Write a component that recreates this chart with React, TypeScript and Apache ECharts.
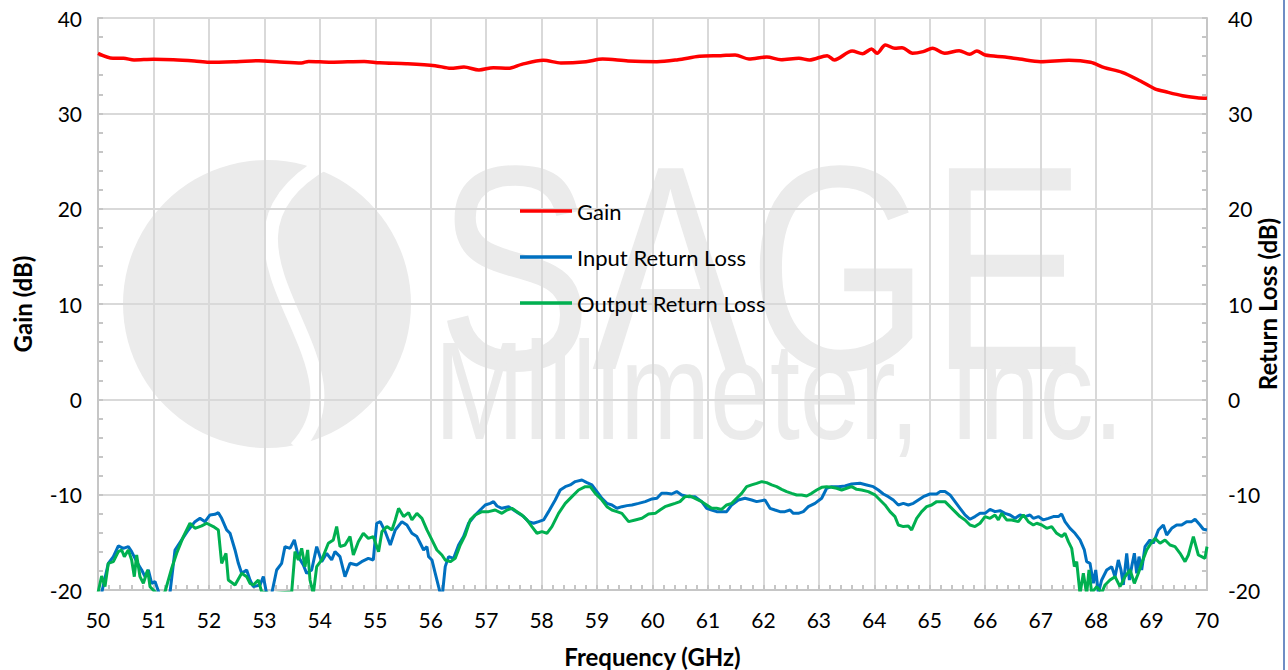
import React, { useEffect, useRef } from "react";
import * as echarts from "echarts";

const xTicks = [50, 51, 52, 53, 54, 55, 56, 57, 58, 59, 60, 61, 62, 63, 64, 65, 66, 67, 68, 69, 70];
const yTicks = [-20, -10, 0, 10, 20, 30, 40];

const gainFreq = [50.0, 50.27, 50.46, 50.65, 51.0, 51.36, 51.74, 52.0, 52.5, 52.9, 53.28, 53.67, 53.8, 54.2, 54.8, 55.08, 55.56, 56.08, 56.36, 56.6, 56.87, 57.13, 57.4, 57.64, 58.03, 58.35, 58.8, 59.1, 59.56, 60.08, 60.46, 60.85, 61.23, 61.49, 61.74, 62.06, 62.32, 62.64, 62.83, 63.15, 63.28, 63.6, 63.79, 63.95, 64.05, 64.2, 64.37, 64.5, 64.69, 64.88, 65.05, 65.27, 65.53, 65.72, 65.85, 66.0, 66.36, 66.62, 67.0, 67.51, 67.9, 68.15, 68.47, 68.8, 69.05, 69.3, 69.56, 69.82, 70.0];
const gainDb = [36.29, 35.77, 35.77, 35.6, 35.67, 35.63, 35.49, 35.35, 35.42, 35.52, 35.38, 35.28, 35.45, 35.35, 35.45, 35.3, 35.2, 35.0, 34.72, 34.86, 34.55, 34.79, 34.72, 35.14, 35.56, 35.28, 35.42, 35.7, 35.49, 35.42, 35.63, 35.98, 36.05, 36.12, 35.7, 35.91, 35.63, 35.77, 35.6, 36.05, 35.6, 36.54, 36.26, 36.75, 36.3, 37.17, 36.82, 36.89, 36.3, 36.47, 36.82, 36.3, 36.57, 36.19, 36.54, 36.12, 35.91, 35.7, 35.42, 35.56, 35.35, 34.79, 34.3, 33.39, 32.6, 32.2, 31.85, 31.64, 31.57];

const inputFreq = [50.0, 50.066, 50.186, 50.277, 50.367, 50.457, 50.547, 50.607, 50.697, 50.788, 50.848, 50.908, 50.968, 51.028, 51.118, 51.298, 51.389, 51.509, 51.629, 51.749, 51.839, 51.93, 52.02, 52.11, 52.17, 52.23, 52.32, 52.381, 52.471, 52.531, 52.591, 52.681, 52.741, 52.801, 52.922, 52.982, 53.042, 53.132, 53.222, 53.312, 53.372, 53.463, 53.541, 53.613, 53.703, 53.763, 53.853, 53.944, 54.034, 54.124, 54.214, 54.274, 54.364, 54.454, 54.545, 54.665, 54.755, 54.875, 54.965, 55.026, 55.09, 55.18, 55.271, 55.361, 55.481, 55.571, 55.661, 55.751, 55.812, 55.872, 55.932, 55.962, 56.022, 56.082, 56.142, 56.202, 56.262, 56.323, 56.413, 56.503, 56.593, 56.683, 56.803, 56.924, 56.984, 57.074, 57.134, 57.194, 57.284, 57.405, 57.495, 57.585, 57.675, 57.765, 57.855, 57.946, 58.036, 58.126, 58.246, 58.336, 58.427, 58.517, 58.607, 58.727, 58.817, 58.907, 58.998, 59.088, 59.178, 59.268, 59.358, 59.448, 59.539, 59.629, 59.749, 59.869, 59.99, 60.08, 60.165, 60.255, 60.346, 60.436, 60.526, 60.646, 60.766, 60.887, 60.977, 61.067, 61.157, 61.247, 61.337, 61.428, 61.548, 61.668, 61.788, 61.878, 62.029, 62.119, 62.209, 62.299, 62.389, 62.48, 62.54, 62.63, 62.72, 62.81, 62.93, 63.051, 63.141, 63.231, 63.351, 63.471, 63.592, 63.742, 63.862, 63.982, 64.073, 64.163, 64.253, 64.343, 64.433, 64.524, 64.614, 64.704, 64.794, 64.884, 65.004, 65.125, 65.185, 65.275, 65.366, 65.456, 65.546, 65.636, 65.726, 65.816, 65.907, 65.997, 66.087, 66.177, 66.267, 66.357, 66.448, 66.538, 66.628, 66.718, 66.808, 66.868, 66.959, 67.049, 67.139, 67.229, 67.319, 67.379, 67.439, 67.53, 67.62, 67.71, 67.788, 67.83, 67.89, 67.95, 67.993, 68.041, 68.101, 68.191, 68.281, 68.341, 68.401, 68.449, 68.491, 68.552, 68.6, 68.642, 68.69, 68.732, 68.774, 68.822, 68.882, 68.972, 69.032, 69.123, 69.213, 69.273, 69.363, 69.453, 69.543, 69.633, 69.724, 69.784, 69.874, 69.934, 70.0];
const inputDb = [-20.5, -20.3, -17.2, -16.5, -15.38, -15.63, -15.45, -15.98, -17.03, -17.9, -18.6, -17.9, -19.3, -19.12, -20.6, -20.3, -15.8, -14.75, -13.7, -12.83, -12.48, -12.83, -12.13, -12.06, -11.89, -12.48, -13.7, -14.05, -15.8, -17.2, -18.25, -17.9, -18.95, -19.65, -19.47, -18.6, -20.4, -20.4, -17.9, -17.2, -15.45, -15.63, -14.75, -16.5, -17.38, -18.25, -17.9, -15.45, -17.03, -16.15, -16.85, -15.98, -16.5, -18.6, -17.2, -17.38, -17.03, -16.68, -16.85, -13.0, -12.83, -13.88, -15.28, -13.7, -12.83, -13.18, -14.05, -14.4, -15.1, -15.8, -15.45, -16.5, -16.85, -18.25, -19.65, -21.0, -17.55, -16.5, -16.68, -15.28, -14.4, -13.0, -12.13, -11.43, -11.08, -10.91, -10.73, -11.19, -11.43, -11.26, -11.61, -11.96, -12.3, -12.83, -13.0, -12.83, -12.65, -11.78, -10.56, -9.51, -9.16, -8.98, -8.63, -8.46, -8.74, -8.98, -9.68, -10.38, -10.91, -11.08, -11.43, -11.26, -11.15, -11.08, -10.91, -10.73, -10.45, -10.38, -9.86, -9.86, -9.93, -9.68, -10.03, -10.21, -10.21, -10.73, -11.43, -11.61, -11.78, -11.78, -11.78, -11.08, -10.56, -10.38, -10.56, -10.73, -10.56, -11.43, -11.61, -11.78, -11.78, -11.61, -11.96, -11.96, -11.78, -11.26, -10.91, -10.38, -9.33, -9.16, -9.16, -9.09, -8.88, -8.81, -8.98, -9.16, -9.51, -9.93, -10.21, -10.56, -11.08, -10.91, -11.08, -10.91, -10.56, -10.21, -9.93, -9.93, -9.68, -9.68, -10.03, -10.73, -11.43, -12.13, -12.58, -12.3, -11.96, -11.96, -11.54, -11.78, -11.68, -11.96, -12.13, -12.48, -12.13, -12.3, -12.13, -12.48, -12.3, -12.65, -12.48, -12.3, -12.3, -12.03, -12.83, -13.53, -14.05, -14.75, -15.8, -17.03, -17.2, -19.3, -17.9, -20.3, -18.95, -17.9, -17.55, -18.6, -16.85, -17.9, -19.47, -16.15, -18.95, -17.55, -16.15, -18.25, -16.5, -17.9, -15.45, -14.75, -15.1, -13.7, -13.18, -14.23, -13.53, -13.18, -13.18, -12.83, -12.83, -12.58, -13.18, -13.63, -13.7];

const outputFreq = [50.0, 50.066, 50.126, 50.186, 50.277, 50.367, 50.427, 50.475, 50.547, 50.607, 50.655, 50.697, 50.757, 50.818, 50.896, 50.938, 51.028, 51.118, 51.208, 51.329, 51.419, 51.539, 51.659, 51.749, 51.87, 51.96, 52.08, 52.17, 52.23, 52.308, 52.35, 52.471, 52.591, 52.681, 52.741, 52.801, 52.891, 52.952, 53.132, 53.312, 53.493, 53.553, 53.613, 53.673, 53.733, 53.781, 53.823, 53.883, 53.944, 54.034, 54.154, 54.244, 54.304, 54.364, 54.454, 54.545, 54.605, 54.695, 54.785, 54.875, 54.965, 55.06, 55.12, 55.21, 55.301, 55.361, 55.421, 55.511, 55.601, 55.661, 55.751, 55.842, 55.932, 56.022, 56.112, 56.202, 56.262, 56.353, 56.443, 56.533, 56.623, 56.713, 56.803, 56.924, 57.044, 57.164, 57.284, 57.375, 57.465, 57.555, 57.645, 57.735, 57.825, 57.916, 58.006, 58.096, 58.186, 58.306, 58.427, 58.547, 58.667, 58.787, 58.877, 58.968, 59.088, 59.178, 59.268, 59.358, 59.448, 59.569, 59.689, 59.809, 59.929, 60.05, 60.135, 60.225, 60.316, 60.406, 60.496, 60.586, 60.676, 60.766, 60.887, 60.977, 61.067, 61.157, 61.247, 61.337, 61.428, 61.518, 61.608, 61.698, 61.788, 61.878, 61.969, 62.059, 62.149, 62.239, 62.329, 62.419, 62.51, 62.6, 62.69, 62.78, 62.87, 62.961, 63.051, 63.141, 63.231, 63.321, 63.411, 63.502, 63.592, 63.682, 63.772, 63.892, 64.013, 64.103, 64.193, 64.283, 64.373, 64.433, 64.524, 64.614, 64.674, 64.764, 64.854, 64.944, 65.034, 65.125, 65.185, 65.275, 65.366, 65.456, 65.546, 65.636, 65.726, 65.816, 65.907, 65.997, 66.087, 66.177, 66.237, 66.297, 66.387, 66.478, 66.598, 66.688, 66.778, 66.868, 66.929, 67.019, 67.109, 67.199, 67.289, 67.379, 67.439, 67.5, 67.56, 67.608, 67.65, 67.71, 67.77, 67.83, 67.872, 67.92, 68.011, 68.101, 68.161, 68.251, 68.341, 68.431, 68.522, 68.612, 68.69, 68.762, 68.822, 68.912, 68.99, 69.063, 69.153, 69.243, 69.333, 69.423, 69.514, 69.604, 69.664, 69.754, 69.844, 69.904, 69.964, 70.0];
const outputDb = [-20.3, -18.53, -19.65, -17.2, -17.03, -15.98, -15.8, -16.5, -15.8, -16.85, -18.6, -16.33, -18.6, -19.3, -17.9, -19.65, -20.2, -20.6, -20.2, -17.72, -16.15, -14.4, -13.0, -13.53, -13.28, -13.0, -13.35, -13.7, -17.2, -16.15, -18.95, -19.47, -18.25, -18.6, -19.3, -19.47, -18.95, -20.2, -20.4, -20.3, -20.2, -15.98, -16.85, -15.63, -17.55, -15.8, -18.95, -20.4, -17.55, -16.85, -15.1, -14.75, -13.35, -15.45, -15.28, -14.4, -16.33, -14.93, -14.05, -14.58, -14.4, -15.98, -13.88, -13.35, -13.7, -12.65, -11.43, -12.3, -11.89, -12.65, -11.96, -12.48, -13.7, -14.75, -15.8, -16.33, -16.85, -17.03, -16.68, -15.28, -14.23, -12.65, -12.13, -11.78, -11.78, -11.61, -11.96, -11.61, -11.43, -11.78, -12.13, -12.65, -13.35, -14.05, -13.88, -14.05, -13.35, -11.96, -10.91, -10.21, -9.51, -9.16, -9.16, -9.86, -10.56, -11.26, -11.61, -11.78, -11.96, -12.83, -12.65, -12.48, -12.03, -11.96, -11.61, -11.26, -11.08, -10.91, -10.73, -10.21, -10.14, -10.38, -10.73, -11.08, -11.43, -11.43, -11.54, -11.08, -10.91, -10.38, -9.86, -9.16, -8.98, -8.81, -8.63, -8.74, -8.98, -9.16, -9.44, -9.68, -9.86, -10.03, -10.03, -10.14, -9.86, -9.51, -9.23, -9.16, -9.23, -9.33, -9.51, -9.33, -9.16, -9.44, -9.51, -9.68, -10.03, -10.56, -11.08, -11.78, -12.3, -13.18, -13.35, -13.28, -13.7, -12.48, -11.78, -11.26, -11.08, -10.73, -10.73, -10.73, -11.26, -11.78, -12.3, -12.65, -13.18, -13.35, -13.0, -12.3, -12.48, -12.13, -12.65, -11.96, -12.65, -12.65, -12.83, -12.13, -12.83, -13.18, -13.0, -13.18, -13.53, -13.35, -14.05, -14.4, -14.05, -14.93, -15.63, -17.55, -17.03, -20.4, -18.25, -20.4, -17.9, -20.3, -19.65, -20.3, -19.47, -18.95, -18.6, -19.65, -18.6, -17.9, -19.3, -18.25, -17.2, -15.8, -15.1, -14.58, -15.1, -14.75, -15.28, -15.45, -16.15, -17.03, -16.33, -14.4, -16.33, -16.5, -16.68, -15.45];

const seriesNames = ["Gain", "Input Return Loss", "Output Return Loss"];
const seriesColors = ["#ff0000", "#0070c0", "#00b050"];

const zip = (xs: number[], ys: number[]) => xs.map((x, i) => [x, ys[i]]);

const FONT = "Lato, 'Open Sans', sans-serif";

export default function App() {
  const ref = useRef<HTMLDivElement>(null);
  useEffect(() => {
    if (!ref.current) return;
    const chart = echarts.init(ref.current, undefined, { renderer: "svg" });
    const wm = "#ebebeb";
    const axisCommon = {
      type: "value",
      min: yTicks[0],
      max: yTicks[yTicks.length - 1],
      interval: 10,
      nameMoveOverlap: false,
      axisLine: { show: true, lineStyle: { color: "#c6c6c6", width: 2 } },
      axisTick: { show: true, inside: true, length: 5, lineStyle: { color: "#c6c6c6", width: 2 } },
      minorTick: { show: true, splitNumber: 5, length: 5, lineStyle: { color: "#c6c6c6", width: 2 } },
      axisLabel: { color: "#000", fontSize: 21, fontFamily: FONT },
      nameLocation: "middle",
      nameTextStyle: { color: "#000", fontSize: 24, fontWeight: "bold", fontFamily: FONT },
    };
    chart.setOption({
      animation: false,
      backgroundColor: "#fff",
      grid: { left: 98, right: 81, top: 18, bottom: 80, containLabel: false, outerBoundsMode: "none" },
      legend: {
        orient: "vertical",
        left: 515,
        top: 195,
        icon: "rect",
        itemWidth: 52,
        itemHeight: 3.5,
        itemGap: 24,
        data: seriesNames,
        textStyle: { color: "#000", fontSize: 22, fontFamily: FONT, lineHeight: 22 },
      },
      graphic: [
        { type: "circle", z: -10, shape: { cx: 267, cy: 304, r: 144 }, style: { fill: wm } },
        {
          type: "bezierCurve",
          z: -9,
          shape: { x1: 326, y1: 162, cpx1: 180, cpy1: 245, cpx2: 380, cpy2: 360, x2: 296, y2: 448 },
          style: { stroke: "#fff", lineWidth: 14, fill: "none" },
        },
        {
          type: "text",
          z: -10,
          x: 761,
          y: 268,
          scaleX: 0.8,
          style: {
            text: "SAGE",
            fill: wm,
            align: "center",
            verticalAlign: "middle",
            font: "normal 292px 'Liberation Sans', Arial, sans-serif",
          },
        },
        {
          type: "text",
          z: -10,
          x: 779,
          y: 390,
          scaleX: 0.77,
          style: {
            text: "Millimeter, Inc.",
            fill: wm,
            align: "center",
            verticalAlign: "middle",
            font: "normal 140px 'Liberation Sans', Arial, sans-serif",
          },
        },
        { type: "line", z: 10, shape: { x1: 1284, y1: 0, x2: 1284, y2: 670 }, style: { stroke: "#3f67b1", lineWidth: 1.5 } },
      ],
      xAxis: {
        type: "value",
        min: xTicks[0],
        max: xTicks[xTicks.length - 1],
        interval: 1,
        name: "Frequency (GHz)",
        nameLocation: "middle",
        nameMoveOverlap: false,
        nameGap: 54,
        nameTextStyle: { color: "#000", fontSize: 24, fontWeight: "bold", fontFamily: FONT },
        axisLine: { show: true, onZero: false, lineStyle: { color: "#c6c6c6", width: 2 } },
        axisTick: { show: true, inside: true, length: 5, lineStyle: { color: "#c6c6c6", width: 2 } },
        minorTick: { show: true, splitNumber: 5, length: 5, lineStyle: { color: "#c6c6c6", width: 2 } },
        axisLabel: { color: "#000", fontSize: 21, fontFamily: FONT, margin: 19 },
        splitLine: { show: true, lineStyle: { color: "#d9d9d9", width: 2 } },
      },
      yAxis: [
        {
          ...axisCommon,
          position: "left",
          name: "Gain (dB)",
          nameGap: 64,
          nameRotate: 90,
          axisLabel: { ...axisCommon.axisLabel, margin: 16 },
          splitLine: { show: true, lineStyle: { color: "#d9d9d9", width: 2 } },
        },
        {
          ...axisCommon,
          position: "right",
          name: "Return Loss (dB)",
          nameGap: 48,
          nameRotate: 90,
          axisLabel: { ...axisCommon.axisLabel, margin: 21 },
          splitLine: { show: false },
        },
      ],
      series: [
        {
          name: seriesNames[0],
          type: "line",
          yAxisIndex: 0,
          data: zip(gainFreq, gainDb),
          showSymbol: false,
          symbol: "none",
          smooth: 0.3,
          lineStyle: { color: seriesColors[0], width: 3.5 },
          itemStyle: { color: seriesColors[0] },
          z: 4,
        },
        {
          name: seriesNames[1],
          type: "line",
          yAxisIndex: 1,
          data: zip(inputFreq, inputDb),
          showSymbol: false,
          symbol: "none",
          lineStyle: { color: seriesColors[1], width: 3 },
          itemStyle: { color: seriesColors[1] },
          z: 3,
        },
        {
          name: seriesNames[2],
          type: "line",
          yAxisIndex: 1,
          data: zip(outputFreq, outputDb),
          showSymbol: false,
          symbol: "none",
          lineStyle: { color: seriesColors[2], width: 3 },
          itemStyle: { color: seriesColors[2] },
          z: 4,
        },
      ],
    });
    return () => chart.dispose();
  }, []);
  return (
    <div
      ref={ref}
      style={{ position: "fixed", left: 0, top: 0, width: 1288, height: 670, background: "#fff" }}
    />
  );
}
